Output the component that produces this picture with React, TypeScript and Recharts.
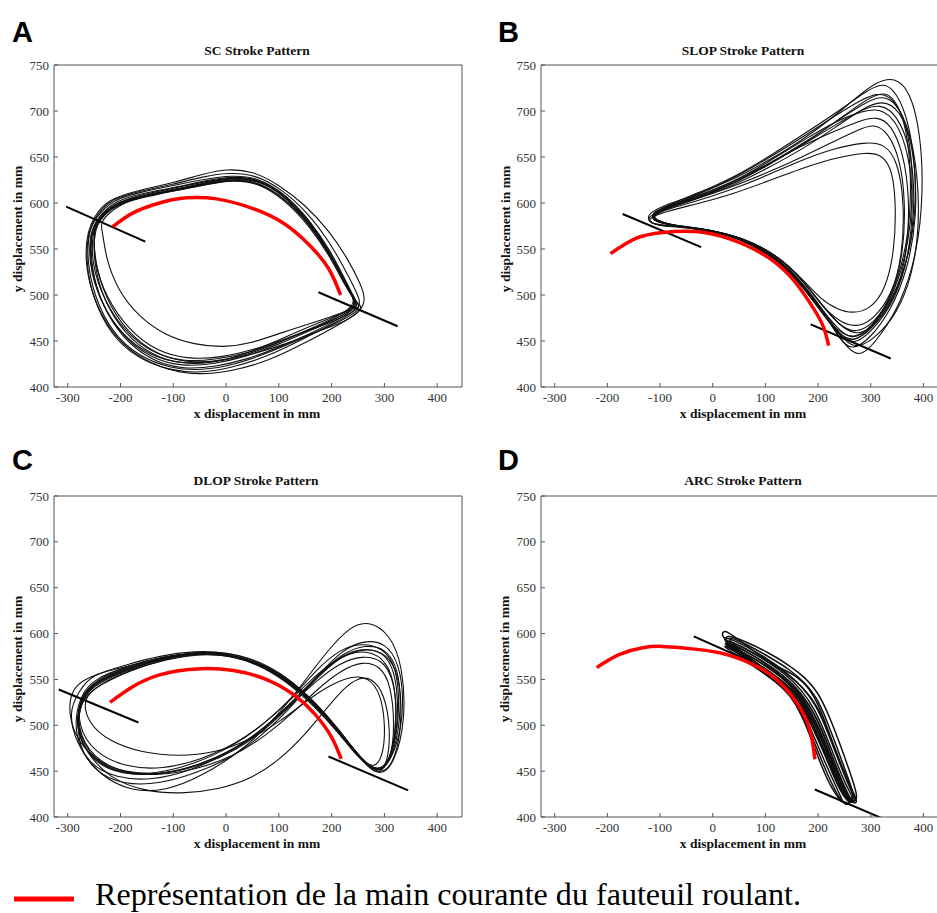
import React from "react";
import { LineChart, Line, XAxis, YAxis } from "recharts";

type Pt = [number, number];

const xTicks = [-300, -200, -100, 0, 100, 200, 300, 400];
const yTicks = [400, 450, 500, 550, 600, 650, 700, 750];

// ---------- A : SC stroke pattern (hand path, mm)
const scTraces: Pt[][] = [
  [[-246,582],[-205,601],[-150,609],[-90,616],[-30,623],[20,628],[70,624],[120,603],[165,574],[205,538],[232,506],[252,487],[215,474],[160,458],[100,443],[40,430],[-20,422],[-80,419],[-140,428],[-195,452],[-235,488],[-256,530],[-256,565]],
  [[-250,585],[-225,604],[-165,614],[-100,622],[-40,632],[0,637],[50,635],[100,620],[150,598],[195,570],[230,540],[255,512],[264,497],[258,483],[215,468],[150,448],[80,428],[10,417],[-50,413],[-110,418],[-170,433],[-220,460],[-255,500],[-268,540],[-262,570]],
  [[-240,580],[-200,600],[-145,609],[-85,615],[-25,622],[25,627],[75,620],[125,598],[170,568],[208,532],[236,500],[250,489],[220,480],[165,470],[105,459],[45,447],[-5,443],[-60,446],[-115,456],[-165,476],[-205,505],[-228,540],[-234,570]],
  [[-245,583],[-210,603],[-155,611],[-95,617],[-35,625],[15,629],[65,626],[115,606],[160,578],[200,543],[230,509],[250,490],[210,476],[155,462],[95,447],[35,434],[-25,427],[-85,425],[-145,434],[-200,458],[-240,494],[-260,534],[-258,567]],
  [[-244,581],[-208,599],[-150,607],[-92,614],[-32,621],[18,626],[70,621],[122,600],[168,570],[207,535],[235,503],[255,486],[222,476],[170,464],[110,452],[50,440],[-10,432],[-70,430],[-130,438],[-185,462],[-228,498],[-250,536],[-250,566]],
  [[-247,584],[-215,604],[-160,612],[-100,619],[-40,626],[10,630],[60,628],[112,610],[158,582],[198,548],[228,514],[247,492],[258,484],[205,468],[140,452],[75,436],[15,424],[-45,418],[-105,420],[-165,433],[-215,458],[-250,498],[-264,540],[-260,570]],
  [[-243,582],[-200,602],[-140,610],[-80,616],[-20,624],[28,629],[80,622],[130,600],[175,568],[212,530],[240,498],[254,488],[225,481],[175,470],[115,455],[55,440],[-5,428],[-65,424],[-125,430],[-180,450],[-225,485],[-248,525],[-252,560]],
  [[-246,583],[-212,600],[-158,608],[-98,613],[-38,620],[12,625],[62,622],[112,603],[158,575],[198,541],[228,507],[248,491],[262,486],[230,472],[180,462],[120,448],[60,437],[0,429],[-60,426],[-120,432],[-175,452],[-222,488],[-246,528],[-252,562]],
  [[-245,582],[-207,602],[-152,610],[-93,617],[-33,624],[17,628],[67,625],[117,605],[162,576],[202,540],[231,507],[251,488],[212,475],[158,461],[98,446],[38,433],[-22,425],[-82,422],[-142,431],[-197,455],[-237,491],[-258,532],[-257,566]],
  [[-244,583],[-203,600],[-147,609],[-88,615],[-28,622],[22,627],[72,623],[122,602],[167,572],[206,537],[234,504],[253,487],[218,477],[162,463],[102,449],[42,437],[-18,430],[-78,427],[-138,436],[-192,460],[-232,495],[-254,533],[-254,565]],
  [[-248,585],[-218,605],[-162,613],[-102,620],[-42,629],[5,633],[55,631],[106,615],[154,590],[196,558],[229,524],[250,500],[258,486],[210,471],[145,452],[78,433],[12,421],[-48,415],[-108,418],[-168,431],[-218,456],[-253,497],[-266,538],[-261,569]],
];
const scTangents: Pt[][] = [
  [[-303,596],[-153,558]],
  [[175,503],[325,466]],
];
const scRim: Pt[] = [[-215,574],[-177,589],[-126,600],[-75,605.6],[-18,604.5],[46,595],[109,578],[160,553],[195,528],[217,500]];

// ---------- B : SLOP stroke pattern
const slopTraces: Pt[][] = [
  [[-128,584],[-92,594],[-35,603],[35,618],[105,638],[175,660],[235,683],[285,703],[322,712],[355,702],[380,665],[388,605],[375,545],[342,495],[302,465],[268,452],[238,460],[205,482],[165,514],[115,541],[55,561],[-15,572],[-75,575],[-115,576]],
  [[-130,586],[-96,597],[-40,607],[30,623],[100,644],[170,668],[228,693],[275,716],[312,732],[345,737],[375,722],[395,675],[400,610],[388,545],[358,492],[318,455],[282,432],[258,440],[222,470],[180,505],[130,536],[70,557],[0,570],[-65,574],[-112,575]],
  [[-125,583],[-88,591],[-30,599],[40,610],[110,625],[180,640],[240,650],[290,655],[322,653],[342,635],[348,595],[345,548],[328,505],[298,484],[265,480],[238,484],[205,495],[165,521],[115,546],[55,563],[-15,572],[-75,575],[-116,577]],
  [[-127,582],[-90,596],[-30,608],[40,627],[110,650],[180,675],[238,697],[282,712],[312,720],[342,715],[368,688],[380,640],[378,580],[360,525],[325,480],[285,455],[258,448],[232,462],[198,488],[158,520],[108,546],[48,563],[-22,573],[-82,576]],
  [[-129,585],[-92,595],[-36,604],[30,616],[100,632],[170,650],[230,667],[278,680],[305,686],[332,678],[356,648],[366,600],[362,545],[342,500],[308,470],[272,458],[242,466],[207,489],[167,519],[117,545],[57,562],[-13,572],[-78,575]],
  [[-126,584],[-86,598],[-26,611],[44,629],[114,653],[184,679],[244,702],[288,720],[318,730],[342,726],[368,698],[384,648],[388,585],[370,527],[338,483],[298,452],[265,440],[244,449],[212,480],[172,512],[122,541],[62,560],[-8,571],[-72,575]],
  [[-127,583],[-89,593],[-31,602],[34,614],[104,630],[174,648],[234,660],[288,666],[326,665],[352,645],[364,598],[360,542],[340,500],[306,474],[276,465],[246,469],[211,485],[171,517],[121,544],[61,561],[-9,572],[-79,575]],
  [[-128,584],[-90,596],[-33,606],[37,622],[107,645],[177,670],[237,690],[285,700],[318,703],[348,690],[372,655],[382,600],[372,540],[345,493],[305,462],[270,446],[245,452],[212,478],[172,510],[122,540],[62,560],[-8,571],[-70,574]],
  [[-128,584],[-91,595],[-34,605],[36,620],[106,642],[176,665],[236,686],[284,702],[318,708],[350,696],[376,660],[385,603],[374,543],[343,494],[303,463],[269,449],[242,456],[208,480],[168,512],[118,541],[58,561],[-12,571],[-73,575]],
  [[-127,583],[-89,594],[-32,604],[33,619],[103,640],[173,664],[233,688],[280,708],[316,720],[340,718],[364,692],[376,645],[376,585],[360,530],[328,485],[290,458],[262,452],[236,464],[202,488],[162,518],[112,544],[52,562],[-18,572],[-78,575]],
  [[-129,585],[-93,596],[-37,606],[31,621],[101,641],[171,663],[231,678],[281,690],[312,694],[338,686],[362,655],[374,605],[370,548],[350,502],[315,470],[279,456],[250,462],[214,484],[174,515],[124,542],[64,561],[-6,571],[-74,575]],
  [[-126,583],[-88,594],[-30,605],[38,621],[108,643],[178,667],[238,690],[286,708],[320,717],[348,710],[375,678],[390,628],[392,570],[378,520],[350,480],[312,455],[276,442],[252,448],[218,476],[178,509],[128,539],[68,559],[-2,570],[-68,574]],
];
const slopTangents: Pt[][] = [
  [[-171,588],[-22,552]],
  [[186,468],[338,431]],
];
const slopRim: Pt[] = [[-194,545],[-146,561.6],[-95,568],[-32,569],[32,561],[95,544.6],[146,521],[184,492],[209,467],[220,445]];

// ---------- C : DLOP stroke pattern
const dlopTraces: Pt[][] = [
  [[-276,533],[-245,548],[-185,562],[-120,573],[-55,579],[0,578],[55,569],[110,551],[165,524],[210,495],[250,465],[285,447],[310,458],[322,495],[322,540],[305,570],[270,582],[225,578],[180,560],[135,535],[80,505],[20,480],[-50,462],[-120,452],[-190,454],[-250,470],[-282,500]],
  [[-280,536],[-255,556],[-195,563],[-130,572],[-60,580],[0,580],[60,571],[115,553],[170,525],[215,495],[255,463],[292,442],[320,460],[340,505],[335,565],[310,600],[270,614],[235,608],[190,580],[145,545],[90,505],[25,470],[-45,445],[-115,428],[-180,428],[-240,445],[-285,480],[-298,515]],
  [[-272,530],[-240,544],[-182,560],[-117,572],[-57,578],[3,577],[58,567],[112,549],[167,521],[213,492],[252,463],[282,452],[298,468],[302,500],[293,535],[270,552],[240,554],[200,545],[155,528],[105,505],[45,484],[-20,470],[-90,466],[-160,470],[-220,482],[-262,502]],
  [[-275,531],[-246,549],[-188,563],[-123,574],[-58,580],[2,579],[62,567],[118,549],[172,521],[220,489],[258,461],[292,446],[318,470],[330,520],[322,565],[298,584],[258,590],[215,583],[170,560],[125,530],[70,500],[10,476],[-60,458],[-130,447],[-200,447],[-255,462],[-287,495]],
  [[-277,534],[-248,551],[-190,564],[-124,575],[-59,578],[1,577],[61,569],[116,552],[171,523],[218,492],[256,463],[290,448],[314,465],[325,510],[318,550],[296,572],[258,576],[215,568],[170,548],[122,522],[65,492],[0,468],[-70,450],[-140,440],[-208,442],[-262,458],[-290,492]],
  [[-274,532],[-242,548],[-182,562],[-117,573],[-52,579],[8,578],[66,567],[121,548],[176,519],[224,485],[262,458],[296,447],[326,478],[338,525],[328,568],[302,590],[262,593],[220,582],[176,556],[130,524],[75,492],[15,466],[-55,448],[-125,436],[-195,435],[-252,450],[-286,485]],
  [[-271,529],[-238,546],[-178,561],[-113,572],[-50,578],[10,576],[68,565],[122,546],[177,517],[226,484],[263,458],[288,445],[306,458],[312,495],[300,535],[276,552],[250,552],[222,540],[190,518],[150,490],[105,464],[50,442],[-15,430],[-85,425],[-155,428],[-220,442],[-266,470],[-288,505]],
  [[-300,525],[-285,545],[-250,555],[-190,566],[-125,576],[-60,581],[0,580],[60,570],[118,550],[172,522],[220,490],[260,460],[294,444],[322,463],[334,508],[328,555],[305,578],[265,585],[222,578],[178,555],[132,527],[78,497],[18,472],[-52,455],[-122,446],[-192,448],[-250,462],[-290,490]],
  [[-275,532],[-244,549],[-186,563],[-121,574],[-56,580],[4,578],[62,568],[117,550],[171,522],[219,490],[257,462],[290,447],[316,468],[328,515],[320,560],[298,580],[262,584],[220,576],[175,555],[128,527],[72,496],[12,472],[-58,455],[-128,446],[-198,446],[-254,460],[-286,494]],
  [[-276,533],[-246,550],[-189,564],[-122,575],[-57,579],[3,578],[63,568],[118,551],[173,522],[221,489],[259,461],[293,446],[320,470],[333,520],[326,563],[302,584],[264,588],[222,579],[178,557],[132,529],[77,499],[17,474],[-53,456],[-123,446],[-193,446],[-250,461],[-285,495]],
  [[-273,531],[-241,547],[-183,561],[-118,573],[-54,579],[6,577],[64,567],[119,549],[174,520],[222,487],[260,459],[292,447],[312,462],[320,500],[312,545],[292,565],[258,570],[218,560],[174,540],[128,514],[74,488],[14,466],[-56,452],[-126,445],[-196,448],[-252,464],[-284,497]],
];
const dlopTangents: Pt[][] = [
  [[-317,539],[-166,503]],
  [[194,466],[345,429]],
];
const dlopRim: Pt[] = [[-220,525],[-177,542],[-126,555],[-56,561.5],[14,559.7],[78,549.6],[129,533],[167,513],[199,488],[218,463.5]];

// ---------- D : ARC stroke pattern
const arcTraces: Pt[][] = [
  [[18,598],[58,588],[100,574],[140,558],[172,541],[196,522],[216,496],[236,466],[256,437],[272,418],[264,414],[246,426],[226,452],[206,478],[190,500],[170,522],[140,542],[100,558],[60,574],[24,591]],
  [[12,594],[52,584],[96,570],[136,554],[168,536],[192,514],[212,488],[232,458],[252,430],[266,416],[258,415],[240,430],[220,458],[200,485],[182,508],[160,530],[128,548],[88,564],[48,579]],
  [[20,603],[28,602],[48,594],[80,580],[112,567],[138,560],[160,553],[182,542],[203,520],[222,490],[242,460],[262,432],[276,417],[268,413],[250,428],[230,457],[210,486],[190,512],[160,535],[120,552],[80,568],[40,586],[16,597]],
  [[15,596],[56,586],[98,572],[138,556],[170,538],[194,517],[214,491],[234,461],[254,433],[269,419],[260,417],[243,430],[224,456],[204,483],[186,506],[164,528],[132,546],[92,562],[52,578]],
  [[24,592],[64,581],[104,566],[142,549],[172,530],[194,506],[214,478],[234,450],[256,424],[252,420],[235,440],[215,467],[196,493],[176,517],[148,537],[110,553],[68,570],[34,585]],
  [[10,590],[48,580],[90,566],[130,550],[162,532],[186,508],[206,480],[226,452],[248,426],[262,417],[250,424],[230,450],[208,478],[188,502],[166,524],[134,542],[94,558],[50,575]],
  [[30,590],[80,570],[118,552],[148,533],[170,510],[188,484],[206,456],[226,430],[248,414],[246,419],[222,448],[198,480],[174,512],[140,538],[96,558],[52,577]],
  [[16,596],[54,586],[98,572],[140,557],[174,540],[200,520],[220,492],[240,462],[260,432],[274,418],[266,416],[248,428],[228,455],[208,482],[190,506],[168,528],[136,546],[96,562],[56,578]],
  [[22,599],[62,589],[106,575],[146,561],[176,546],[198,530],[216,506],[236,476],[256,444],[270,422],[262,418],[244,434],[224,462],[204,490],[186,514],[162,534],[128,550],[88,566],[48,582]],
  [[14,592],[50,582],[92,568],[132,552],[164,534],[188,512],[208,484],[228,456],[250,428],[264,416],[256,417],[238,434],[218,462],[198,490],[178,514],[154,534],[120,550],[80,566],[40,582]],
  [[20,600],[60,592],[104,580],[144,566],[176,552],[200,536],[220,512],[240,482],[260,450],[276,422],[270,416],[252,420],[232,445],[212,470],[194,492],[174,516],[144,538],[104,554],[64,570],[28,588]],
  [[14,590],[50,578],[92,562],[130,544],[158,524],[180,500],[198,474],[218,446],[240,420],[254,412],[262,416],[250,432],[232,458],[214,486],[196,510],[174,530],[142,548],[102,565],[58,580]],
];
const arcTangents: Pt[][] = [
  [[-36,597],[89,565]],
  [[194,430],[344,393]],
];
const arcRim: Pt[] = [[-220,563],[-178,577],[-133,584.6],[-95,586],[-51,584],[13,579],[76,566.5],[121,550],[159,525],[184,496],[194,463]];

const rows = (pts: Pt[]) => pts.map(([x, y]) => ({ x, y }));

const tickFont = { fill: "#333", fontSize: 13, fontFamily: "Liberation Serif" };
const frame = "#555";

interface PanelProps {
  left: number;
  top: number;
  width: number;
  margin: { top: number; right: number; bottom: number; left: number };
  xDomain: [number, number];
  traces: Pt[][];
  tangents: Pt[][];
  rim: Pt[];
  traceWidth?: number;
}

function Panel({ left, top, width, margin, xDomain, traces, tangents, rim, traceWidth = 1.1 }: PanelProps) {
  return (
    <div style={{ position: "absolute", left, top }}>
      <LineChart width={width} height={430} margin={margin}>
        <XAxis
          xAxisId="b"
          dataKey="x"
          type="number"
          domain={xDomain}
          allowDataOverflow
          ticks={xTicks}
          interval={0}
          height={1}
          tickSize={-4}
          tickMargin={10}
          stroke={frame}
          tick={tickFont}
        />
        <XAxis
          xAxisId="t"
          orientation="top"
          dataKey="x"
          type="number"
          domain={xDomain}
          allowDataOverflow
          ticks={xTicks}
          interval={0}
          height={1}
          tickSize={-4}
          stroke={frame}
          tick={false}
        />
        <YAxis
          yAxisId="l"
          type="number"
          domain={[400, 750]}
          allowDataOverflow
          ticks={yTicks}
          interval={0}
          width={1}
          tickSize={-4}
          tickMargin={9}
          stroke={frame}
          tick={tickFont}
        />
        <YAxis
          yAxisId="r"
          orientation="right"
          type="number"
          domain={[400, 750]}
          allowDataOverflow
          ticks={yTicks}
          interval={0}
          width={1}
          tickSize={-4}
          stroke={frame}
          tick={false}
        />
        {traces.map((t, i) => (
          <Line
            key={"t" + i}
            xAxisId="b"
            yAxisId="l"
            data={rows(t)}
            dataKey="y"
            type="basisClosed"
            stroke="#111"
            strokeWidth={traceWidth}
            dot={false}
            activeDot={false}
            isAnimationActive={false}
          />
        ))}
        {tangents.map((t, i) => (
          <Line
            key={"g" + i}
            xAxisId="b"
            yAxisId="l"
            data={rows(t)}
            dataKey="y"
            type="linear"
            stroke="#000"
            strokeWidth={2}
            dot={false}
            activeDot={false}
            isAnimationActive={false}
          />
        ))}
        <Line
          xAxisId="b"
          yAxisId="l"
          data={rows(rim)}
          dataKey="y"
          type="natural"
          stroke="#ff0000"
          strokeWidth={3.5}
          dot={false}
          activeDot={false}
          isAnimationActive={false}
        />
      </LineChart>
    </div>
  );
}

const boldSerif = { fontFamily: "Liberation Serif", fontWeight: 700, fontSize: 13.5, fill: "#111" } as const;
const letter = { fontFamily: "Liberation Sans", fontWeight: 700, fontSize: 29, fill: "#000" } as const;

export default function App() {
  return (
    <div style={{ position: "absolute", left: 0, top: 0, width: 937, height: 913, overflow: "hidden", background: "#fff" }}>
      <Panel left={0} top={0} width={470} margin={{ top: 64, right: 7, bottom: 42, left: 53 }} xDomain={[-326, 447]} traces={scTraces} tangents={scTangents} rim={scRim} />
      <Panel left={470} top={0} width={480} margin={{ top: 64, right: 4, bottom: 42, left: 70 }} xDomain={[-326, 441]} traces={slopTraces} tangents={slopTangents} rim={slopRim} />
      <Panel left={0} top={430} width={470} margin={{ top: 65, right: 7, bottom: 42, left: 53 }} xDomain={[-326, 447]} traces={dlopTraces} tangents={dlopTangents} rim={dlopRim} />
      <Panel left={470} top={430} width={480} margin={{ top: 65, right: 4, bottom: 42, left: 70 }} xDomain={[-326, 441]} traces={arcTraces} tangents={arcTangents} rim={arcRim} traceWidth={1.5} />

      <svg width={937} height={913} style={{ position: "absolute", left: 0, top: 0, pointerEvents: "none" }}>
        <text x={12} y={42} {...letter}>A</text>
        <text x={498} y={42} {...letter}>B</text>
        <text x={12} y={470} {...letter}>C</text>
        <text x={498} y={470} {...letter}>D</text>

        <text x={257} y={55} textAnchor="middle" {...boldSerif}>SC Stroke Pattern</text>
        <text x={743} y={55} textAnchor="middle" {...boldSerif}>SLOP Stroke Pattern</text>
        <text x={256} y={485} textAnchor="middle" {...boldSerif}>DLOP Stroke Pattern</text>
        <text x={743} y={485} textAnchor="middle" {...boldSerif}>ARC Stroke Pattern</text>

        <text x={257} y={418} textAnchor="middle" {...boldSerif}>x displacement in mm</text>
        <text x={743} y={418} textAnchor="middle" {...boldSerif}>x displacement in mm</text>
        <text x={257} y={848} textAnchor="middle" {...boldSerif}>x displacement in mm</text>
        <text x={743} y={848} textAnchor="middle" {...boldSerif}>x displacement in mm</text>

        <text x={22} y={229} textAnchor="middle" transform="rotate(-90 22 229)" {...boldSerif}>y displacement in mm</text>
        <text x={510} y={229} textAnchor="middle" transform="rotate(-90 510 229)" {...boldSerif}>y displacement in mm</text>
        <text x={22} y={659} textAnchor="middle" transform="rotate(-90 22 659)" {...boldSerif}>y displacement in mm</text>
        <text x={509} y={659} textAnchor="middle" transform="rotate(-90 509 659)" {...boldSerif}>y displacement in mm</text>

        <line x1={14} y1={899} x2={74} y2={899} stroke="#ff0000" strokeWidth={5} />
        <text x={95} y={905} fontFamily="Liberation Serif" fontSize={31} fill="#000" textLength={706} lengthAdjust="spacingAndGlyphs">
          Représentation de la main courante du fauteuil roulant.
        </text>
      </svg>
    </div>
  );
}
